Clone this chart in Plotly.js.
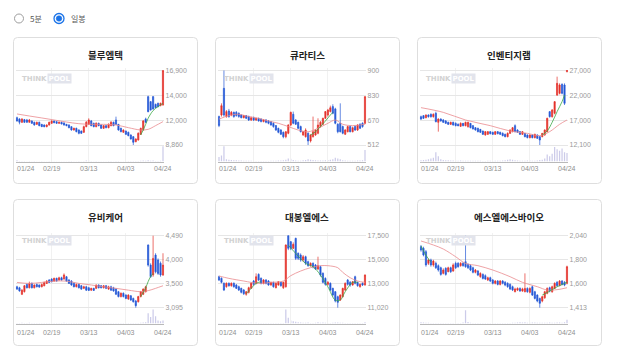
<!DOCTYPE html>
<html><head><meta charset="utf-8">
<script src="https://cdn.plot.ly/plotly-3.0.1.min.js"></script>
<style>html,body{margin:0;padding:0;background:#fff;}#chart{width:618px;height:357px;}</style>
</head><body><div id="chart"></div>
<script>
// ---------- DATA ----------
const names = ['블루엠텍','큐라티스','인벤티지랩','유비케어','대봉엘에스','에스엘에스바이오'];
const dates = ['01/24','01/31','02/03','02/04','02/05','02/06','02/07','02/10','02/11','02/12','02/13','02/14','02/17','02/18','02/19','02/20','02/21','02/24','02/25','02/26','02/27','02/28','03/04','03/05','03/06','03/07','03/10','03/11','03/12','03/13','03/14','03/17','03/18','03/19','03/20','03/21','03/24','03/25','03/26','03/27','03/28','03/31','04/01','04/02','04/03','04/04','04/07','04/08','04/09','04/10','04/11','04/14','04/15','04/16','04/17','04/18','04/21','04/22','04/23','04/24'];
const xLabelDates = ['01/24','02/19','03/13','04/03','04/24'];
const radioLabels = ['5분','일봉'];

// 블루엠텍
const c1Range = [8860,16900];
const c1TickText = ['8,860','12,000','14,000','16,900'];
const c1Open = [11810,11670,11310,11600,11560,11310,11450,11310,11090,11310,11090,11020,10840,11020,11200,11450,11380,11200,11310,11240,11090,11020,10840,10480,10660,10480,10370,10230,10840,11090,11450,11200,10840,11200,11020,10660,10950,10730,10950,11310,11560,11090,10660,10230,10370,10230,9940,9760,9220,9400,10010,10480,11670,14080,13540,14080,13250,13360,13110,13180];
const c1High = [11920,11740,11740,11670,11670,11670,11520,11380,11380,11380,11130,11090,11090,11380,11520,11520,11450,11380,11380,11310,11130,11090,10880,10730,10730,10550,10410,10950,11450,11740,11560,11270,11310,11270,11090,11020,11020,11200,11450,11380,11920,11130,10730,10550,10410,10300,10010,9830,9580,10230,10730,11560,11810,14180,13610,14150,13320,13430,13430,16900];
const c1Low = [11380,11090,11240,11240,11270,11270,11130,10950,11020,10880,10800,10770,10770,10950,11130,11200,11130,11130,11090,10950,10880,10660,10410,10410,10230,10010,10050,10160,10770,11020,10880,10770,10770,10880,10590,10590,10660,10660,10880,10880,11020,10410,10230,10160,9940,9800,9440,8860,9150,9330,9940,10410,11240,12390,12570,12680,12820,12930,13040,13110];
const c1Close = [11450,11310,11670,11310,11310,11560,11200,11020,11310,10950,10840,10840,11020,11310,11450,11270,11200,11310,11130,11020,10950,10730,10480,10660,10300,10120,10120,10840,11310,11560,10950,10840,11200,10950,10660,10950,10730,11090,11310,10950,11090,10480,10300,10480,10010,9870,9510,9150,9510,10120,10660,11450,11310,12460,12640,12750,12890,13000,13360,16900];
const c1Vol = [8,4,3,3,2,3,2,3,2,2,3,2,2,3,2,2,2,2,2,2,2,3,3,2,2,3,2,4,6,5,3,2,3,2,2,2,2,3,3,2,4,3,2,2,2,3,3,4,3,4,5,6,5,8,5,6,4,4,5,100];
const c1MaIdx = [0,5,10,15,20,25,30,35,40,45,50,53,56,59];
const c1Ma = [12210,11990,11780,11560,11340,11160,11090,11090,11020,10730,10480,10550,10950,11380];
const c1GreenIdx = [50,51,52,53,54,55,56,57,58,59];
const c1Green = [9940,10480,11090,11740,12210,12570,12820,13000,13180,13360];

// 큐라티스
const c2Range = [512,900];
const c2TickText = ['512','670','830','900'];
const c2Open = [660,668,807,660,689,668,682,682,677,668,654,665,660,642,654,642,651,647,634,642,637,634,625,613,599,590,578,555,573,616,672,642,630,608,564,555,573,533,555,564,573,608,620,651,668,686,712,700,620,625,608,568,581,608,581,608,590,620,625,625];
const c2High = [665,729,900,694,700,689,686,689,682,672,668,668,665,660,660,654,654,651,647,647,642,637,630,616,602,595,582,585,620,686,686,647,634,613,585,599,578,568,660,595,651,637,654,689,700,717,724,706,625,729,613,595,613,613,608,613,620,625,630,764];
const c2Low = [605,660,660,654,654,662,654,660,654,651,651,647,637,637,637,637,634,630,630,625,620,613,602,585,573,564,547,547,568,610,620,616,595,578,560,551,512,525,551,560,568,602,616,647,660,682,672,620,573,578,568,564,578,578,578,585,585,595,602,620];
const c2Close = [613,717,668,686,660,682,660,665,660,654,665,651,642,654,642,651,637,634,642,630,625,616,608,590,578,568,555,581,616,682,625,620,599,581,581,590,533,564,581,590,616,630,651,686,694,706,677,625,581,581,573,590,608,581,602,590,616,599,608,764];
const c2Vol = [30,40,100,15,12,10,8,8,6,6,5,5,5,5,4,4,4,4,4,4,4,5,5,5,6,6,8,12,20,18,10,6,5,5,8,10,15,12,10,8,6,6,6,8,10,12,15,25,20,15,8,6,5,5,5,5,6,6,8,75];
const c2MaIdx = [0,4,8,12,16,20,24,28,32,36,40,44,47,50,54,59];
const c2Ma = [647,665,672,660,651,637,625,608,590,581,599,625,642,620,613,620];
const c2GreenIdx = [37,39,41,43,45,46];
const c2Green = [564,581,608,637,668,682];

// 인벤티지랩
const c3Range = [12100,27000];
const c3TickText = ['12,100','17,000','22,000','27,000'];
const c3Open = [17770,17970,17570,18100,18230,17770,18430,16630,17300,17100,16900,16630,16230,16630,16430,16230,15830,16430,15970,15770,16430,15970,15570,15430,15230,14900,14100,14230,14770,14630,14230,14770,14630,14430,14230,13770,14430,14770,15970,15100,14770,14230,14430,14100,13570,14100,13570,14100,13770,13770,14100,14770,18770,17770,18430,22100,22430,24230,24100,26770];
const c3High = [17970,18100,18230,18230,18430,18430,18770,17430,17430,17300,17100,16770,16770,16770,16630,16430,16630,16500,16770,16770,16500,16100,15700,15570,15300,14970,14900,14900,14900,14770,14900,14900,14770,14630,14370,14630,15230,15700,16230,15230,14900,14900,14500,14230,14230,14230,14370,14230,13900,14500,15230,17570,18900,19300,20900,25770,24430,24430,24430,27000];
const c3Low = [17100,17300,17430,17570,17570,17570,16630,14770,16770,16500,16300,16100,16100,15970,15830,15830,15700,15830,15830,15570,15430,15230,14970,14630,14500,14100,13970,14100,14230,14100,14100,14230,14100,13830,13630,13630,14300,14630,14630,14500,14100,14100,13630,13430,13430,13430,13430,13300,12100,13630,13970,14630,17570,17570,18230,21900,22230,22230,20100,26630];
const c3Close = [17300,17430,18100,17770,17770,18230,16770,17300,16900,16630,16430,16230,16630,16100,15970,15970,16430,15970,16630,16630,15570,15300,15100,14770,14630,14230,14770,14770,14370,14230,14770,14370,14230,13970,13770,14430,15100,15570,14770,14630,14230,14770,13770,13570,14100,13570,14230,13430,13100,14430,15100,17430,17770,19100,20770,24430,24100,22430,20430,27000];
const c3Vol = [8,10,12,15,20,25,60,35,15,10,8,8,6,6,6,5,6,5,5,5,5,5,5,5,5,4,4,5,5,4,5,5,5,6,8,12,15,12,8,6,5,5,5,6,6,5,5,6,10,12,20,45,35,50,95,80,70,85,60,55];
const c3MaIdx = [0,9,18,28,36,43,48,52,56,59];
const c3Ma = [19570,18630,17100,15970,14900,14430,13970,14770,16230,17100];
const c3GreenIdx = [49,51,53,55,57,58];
const c3Green = [14100,14900,16630,18770,20770,22100];

// 유비케어
const c4Range = [3095,4490];
const c4TickText = ['3,095','3,500','4,000','4,490'];
const c4Open = [3500,3480,3355,3405,3545,3480,3565,3480,3545,3535,3500,3520,3565,3630,3650,3610,3665,3630,3675,3650,3695,3630,3610,3565,3500,3545,3520,3470,3500,3480,3435,3470,3470,3535,3520,3480,3520,3455,3500,3480,3455,3405,3310,3375,3340,3265,3325,3275,3225,3210,3310,3355,3405,4310,3920,3730,4115,4020,3955,3730];
const c4High = [3520,3500,3455,3535,3565,3600,3585,3545,3565,3545,3565,3600,3630,3650,3665,3675,3675,3695,3695,3760,3710,3650,3630,3585,3565,3565,3535,3520,3520,3500,3480,3480,3545,3545,3535,3535,3535,3520,3520,3500,3470,3420,3390,3390,3355,3355,3340,3290,3245,3325,3420,3470,3520,4320,3955,4490,4150,4050,3990,4150];
const c4Low = [3440,3405,3340,3390,3470,3470,3470,3470,3490,3480,3490,3510,3555,3575,3585,3600,3600,3620,3620,3640,3600,3555,3520,3490,3490,3470,3440,3455,3420,3420,3420,3420,3455,3470,3470,3470,3455,3440,3420,3405,3340,3295,3295,3295,3260,3245,3225,3195,3095,3195,3295,3340,3390,3890,3675,3695,3760,3730,3695,3710];
const c4Close = [3455,3420,3435,3520,3480,3565,3480,3535,3500,3495,3545,3585,3610,3585,3600,3665,3610,3675,3630,3730,3610,3565,3535,3500,3545,3480,3455,3500,3435,3430,3470,3430,3535,3480,3480,3520,3470,3500,3435,3420,3355,3310,3375,3310,3275,3340,3245,3210,3135,3310,3405,3455,3500,3920,3695,4050,3790,3760,3730,3920];
const c4Vol = [4,4,5,4,4,5,4,3,3,3,3,3,3,3,3,3,3,4,4,5,4,3,3,3,3,3,3,3,3,3,3,3,3,3,3,3,3,3,3,3,3,3,3,3,3,3,3,3,4,4,5,6,8,70,45,95,50,20,15,20];
const c4MaIdx = [0,5,10,15,20,25,30,35,40,45,50,53,56,59];
const c4Ma = [3585,3565,3585,3610,3610,3565,3535,3500,3470,3435,3405,3425,3470,3520];
const c4GreenIdx = [50,51,52,53,54,55];
const c4Green = [3310,3390,3480,3600,3700,3760];

// 대봉엘에스
const c5Range = [11020,17500];
const c5TickText = ['11,020','13,000','15,000','17,500'];
const c5Open = [13810,13660,13210,12910,13210,13000,13210,13060,12910,12760,12610,12220,12400,12760,13420,13210,14020,13660,13210,13510,13420,13060,13300,12820,13060,13300,12820,12910,17500,16960,16360,17260,15910,15760,15310,15610,15160,14800,15010,14860,14500,14710,14110,13660,13120,13210,12760,12460,12010,11710,12010,12610,13510,13300,13060,13810,13300,12910,13210,13060];
const c5High = [13900,13750,13300,13300,13300,13300,13300,13150,13000,12820,12700,12520,12910,13300,13510,14110,14110,13750,13600,13600,13510,13360,13360,13300,13420,13360,13360,16720,17500,17020,16900,17320,16000,15910,15760,15700,15250,15100,15100,14950,15610,14800,14200,13750,13420,13300,12820,12520,12100,12220,12820,13300,13600,13420,13420,13900,13360,13210,13300,14020];
const c5Low = [13420,13210,12520,12820,12910,12910,12820,12700,12520,12310,12160,12100,12310,12700,13000,13120,13420,13120,13120,13120,13000,13000,12820,12760,13000,12910,12700,12820,16200,16200,16300,15310,15310,15160,15160,14860,14710,14710,14560,14410,14410,13810,13210,13000,13000,12520,12010,11500,11020,11620,11950,12520,13000,12910,13000,13120,12910,12820,12970,13000];
const c5Close = [13510,13300,12610,13210,13000,13210,12910,12760,12610,12400,12280,12460,12820,13210,13120,13810,13510,13210,13510,13210,13060,13300,12910,13210,13360,13000,13300,16660,16360,16360,16720,15460,15460,15310,15610,15010,14800,15010,14710,14500,14800,13960,13300,13120,13300,12610,12160,11620,11500,12160,12760,13210,13120,13060,13360,13210,13000,13120,13060,13960];
const c5Vol = [4,3,3,3,3,3,3,3,3,3,3,4,4,5,4,5,4,3,3,3,3,3,3,3,3,3,4,95,40,20,15,12,8,6,5,5,6,4,4,5,8,5,6,5,4,4,5,6,6,5,5,4,4,4,4,4,4,4,4,8];
const c5MaIdx = [0,4,10,16,21,26,29,33,37,41,44,48,50,53,56,59];
const c5Ma = [13870,13660,13420,13210,13300,13420,13900,14320,14620,14800,14800,14620,14200,13720,13420,13300];
const c5GreenIdx = [11,13,15,17,null,28,31,35,38,41,44,47,49,51,54,56];
const c5Green = [12280,12760,13210,13360,null,16660,15910,15010,14710,13960,12900,11700,11710,12460,13300,13300];

// 에스엘에스바이오
const c6Range = [1413,2040];
const c6TickText = ['1,413','1,600','1,800','2,040'];
const c6Open = [1944,1930,1901,1799,1828,1785,1799,1779,1761,1712,1756,1727,1761,1732,1799,1799,1779,1799,1814,1790,1779,1761,1721,1732,1683,1703,1692,1654,1674,1654,1625,1645,1616,1645,1634,1625,1616,1596,1552,1567,1581,1558,1552,1581,1547,1596,1552,1523,1494,1471,1500,1538,1587,1552,1581,1634,1605,1645,1634,1625];
const c6High = [1959,1944,1915,1840,1840,1830,1814,1790,1770,1756,1765,1770,1770,1799,1814,1810,1810,1810,2040,1799,1790,1770,1750,1741,1721,1712,1703,1683,1683,1663,1654,1654,1654,1654,1645,1634,1625,1605,1587,1590,1590,1587,1712,1590,1590,1605,1560,1530,1500,1515,1560,1590,1596,1605,1634,1645,1654,1654,1645,1779];
const c6Low = [1901,1860,1770,1785,1770,1770,1750,1727,1692,1703,1692,1721,1715,1727,1750,1761,1770,1770,1761,1750,1732,1712,1712,1688,1674,1659,1654,1645,1636,1616,1616,1607,1607,1616,1600,1587,1567,1558,1547,1558,1552,1552,1547,1543,1538,1515,1485,1460,1413,1460,1490,1530,1547,1543,1576,1596,1600,1607,1600,1616];
const c6Close = [1915,1872,1785,1828,1785,1819,1761,1741,1703,1741,1703,1761,1727,1785,1761,1770,1799,1779,1770,1761,1741,1721,1741,1697,1712,1668,1663,1674,1645,1625,1645,1616,1645,1625,1610,1596,1576,1567,1576,1581,1558,1576,1581,1552,1581,1523,1494,1471,1451,1509,1552,1581,1558,1596,1625,1605,1645,1616,1610,1770];
const c6Vol = [8,6,5,5,4,4,4,4,4,4,4,4,4,4,4,4,4,6,90,10,5,4,4,4,4,4,4,4,4,4,4,4,4,4,4,4,4,5,5,6,8,6,8,5,5,6,6,5,5,5,5,5,6,5,5,6,6,5,8,25];
const c6MaIdx = [0,5,9,14,18,23,29,36,41,47,51,55,59];
const c6Ma = [1994,1959,1924,1857,1799,1779,1741,1683,1634,1596,1567,1570,1587];
const c6GreenIdx = [0,2,4,null,49,51,53,55,57,59];
const c6Green = [1950,1870,1810,null,1523,1545,1570,1595,1615,1635];

// ---------- DRAWING ----------
const W = 618, H = 357;
const X = p => p / W, Y = p => 1 - p / H;
const cards = [
  {o:c1Open,h:c1High,l:c1Low,c:c1Close,v:c1Vol,mi:c1MaIdx,ma:c1Ma,gi:c1GreenIdx,g:c1Green,tt:c1TickText,rg:c1Range},
  {o:c2Open,h:c2High,l:c2Low,c:c2Close,v:c2Vol,mi:c2MaIdx,ma:c2Ma,gi:c2GreenIdx,g:c2Green,tt:c2TickText,rg:c2Range},
  {o:c3Open,h:c3High,l:c3Low,c:c3Close,v:c3Vol,mi:c3MaIdx,ma:c3Ma,gi:c3GreenIdx,g:c3Green,tt:c3TickText,rg:c3Range},
  {o:c4Open,h:c4High,l:c4Low,c:c4Close,v:c4Vol,mi:c4MaIdx,ma:c4Ma,gi:c4GreenIdx,g:c4Green,tt:c4TickText,rg:c4Range},
  {o:c5Open,h:c5High,l:c5Low,c:c5Close,v:c5Vol,mi:c5MaIdx,ma:c5Ma,gi:c5GreenIdx,g:c5Green,tt:c5TickText,rg:c5Range},
  {o:c6Open,h:c6High,l:c6Low,c:c6Close,v:c6Vol,mi:c6MaIdx,ma:c6Ma,gi:c6GreenIdx,g:c6Green,tt:c6TickText,rg:c6Range}
];
const colLeft = [13, 215, 417];
const rows = [
  {top:37, title:54.5, gridTop:70.5, gridBot:145, axis:161.5, xlab:168.5, bottom:183},
  {top:199, title:217.5, gridTop:235.7, gridBot:307.7, axis:323.5, xlab:332, bottom:345}
];
const UP = '#e4322b', DOWN = '#2457d6';

function rr(x0, y0, x1, y1, r) {
  const P = (x, y) => X(x) + ',' + Y(y);
  return 'M ' + P(x0 + r, y0) + ' L ' + P(x1 - r, y0) + ' Q ' + P(x1, y0) + ' ' + P(x1, y0 + r) +
    ' L ' + P(x1, y1 - r) + ' Q ' + P(x1, y1) + ' ' + P(x1 - r, y1) +
    ' L ' + P(x0 + r, y1) + ' Q ' + P(x0, y1) + ' ' + P(x0, y1 - r) +
    ' L ' + P(x0, y0 + r) + ' Q ' + P(x0, y0) + ' ' + P(x0 + r, y0) + ' Z';
}

const layout = {
  width: W, height: H, margin: {l:0, r:0, t:0, b:0},
  paper_bgcolor: '#ffffff', plot_bgcolor: 'rgba(0,0,0,0)', showlegend: false,
  font: {family: 'Noto Sans CJK KR, sans-serif'},
  shapes: [], annotations: []
};
const traces = [];
const numFont = 'Liberation Sans, Arial, sans-serif';

cards.forEach((cd, k) => {
  const r = rows[Math.floor(k / 3)], L = colLeft[k % 3];
  const xk = k === 0 ? '' : String(k + 1);
  const xId = 'x' + xk, xKey = 'xaxis' + xk;
  const vN = 2 * k + 1, pN = 2 * k + 2;
  const vId = vN === 1 ? 'y' : 'y' + vN, vKey = vN === 1 ? 'yaxis' : 'yaxis' + vN;
  const pId = 'y' + pN, pKey = 'yaxis' + pN;
  const s = 146 / 59;
  const [vb, vt] = cd.rg;
  const kpx = (vt - vb) / (r.gridBot - r.gridTop);

  layout.shapes.push({type:'path', xref:'paper', yref:'paper', path: rr(L + 0.5, r.top + 0.5, L + 184.5, r.bottom + 0.5, 4),
    line:{color:'#dedede', width:1}, fillcolor:'#ffffff', layer:'below'});

  layout[xKey] = {type:'category', domain:[X(L + 4 - 0.6 * s), X(L + 150 + 0.6 * s)], range:[-0.6, 59.6],
    anchor: pId, tickvals:[xLabelDates[1], xLabelDates[2], xLabelDates[3]], showticklabels:false, ticks:'',
    showgrid:true, gridcolor:'#f1f1f1', gridwidth:1, showline:true, linecolor:'#b9b9b9', linewidth:1,
    zeroline:false, rangeslider:{visible:false}, fixedrange:true};
  layout[vKey] = {domain:[Y(r.axis), Y(r.gridBot)], range:[0, 108], visible:false, anchor:xId, fixedrange:true};
  layout[pKey] = {domain:[Y(r.axis), Y(r.gridTop - 3)], range:[vb - (r.axis - r.gridBot) * kpx, vt + 3 * kpx],
    side:'right', anchor:xId, tickvals:[vb, vb + (vt - vb) / 3, vb + 2 * (vt - vb) / 3, vt], ticktext: cd.tt,
    showgrid:true, gridcolor:'#e6e6e6', gridwidth:1, zeroline:false, ticks:'', showline:false,
    tickfont:{family:numFont, size:7, color:'#9a9a9a'}, fixedrange:true};

  traces.push({type:'bar', x:dates, y:cd.v, xaxis:xId, yaxis:vId, width:0.5,
    marker:{color:'#cccbe9', line:{width:0}}, hoverinfo:'skip'});
  traces.push({type:'scatter', mode:'lines', x:cd.mi.map(i => dates[i]), y:cd.ma, xaxis:xId, yaxis:pId,
    line:{color:'#ea8a8e', width:0.8, shape:'spline'}, hoverinfo:'skip'});
  traces.push({type:'scatter', mode:'lines', x:cd.gi.map(i => i === null ? null : dates[i]), y:cd.g, xaxis:xId, yaxis:pId,
    connectgaps:false, line:{color:'#3aa845', width:0.8, shape:'spline'}, hoverinfo:'skip'});
  traces.push({type:'candlestick', x:dates, open:cd.o, high:cd.h, low:cd.l, close:cd.c, xaxis:xId, yaxis:pId,
    whiskerwidth:0, increasing:{line:{color:UP, width:0.7}, fillcolor:UP},
    decreasing:{line:{color:DOWN, width:0.7}, fillcolor:DOWN}, hoverinfo:'skip'});

  // title
  layout.annotations.push({xref:'paper', yref:'paper', x:X(L + 92), y:Y(r.title), xanchor:'center', yanchor:'middle',
    text:names[k], showarrow:false, font:{family:'Noto Sans CJK KR, sans-serif', size:9.5, color:'#222222', weight:'bold'}});
  // watermark
  const wy = Y(r.top + 41.5);
  layout.annotations.push({xref:'paper', yref:'paper', x:X(L + 7), y:wy, xanchor:'left', yanchor:'middle',
    text:'THINK', showarrow:false, font:{family:'DejaVu Sans, sans-serif', size:7, color:'#d2d2d2', weight:'bold'}});
  layout.annotations.push({xref:'paper', yref:'paper', x:X(L + 34), y:wy, xanchor:'left', yanchor:'middle',
    text:'POOL', showarrow:false, bgcolor:'#e2e4ec', borderpad:0.5,
    font:{family:'DejaVu Sans, sans-serif', size:7, color:'#ffffff', weight:'bold'}});
  // x labels
  xLabelDates.forEach((d, j) => {
    layout.annotations.push({xref:xId, yref:'paper', x:d, y:Y(r.xlab), xanchor: j === 0 ? 'left' : 'center',
      xshift: j === 0 ? -1.5 : 0, yanchor:'middle', text:d, showarrow:false,
      font:{family:numFont, size:7, color:'#8f8f8f'}});
  });
});

// radio buttons
layout.shapes.push({type:'circle', xref:'paper', yref:'paper', x0:X(14.5), x1:X(23.5), y0:Y(23), y1:Y(14),
  line:{color:'#9e9e9e', width:1}, fillcolor:'#ffffff'});
layout.shapes.push({type:'circle', xref:'paper', yref:'paper', x0:X(54), x1:X(64), y0:Y(23.5), y1:Y(13.5),
  line:{color:'#1a73e8', width:1.3}, fillcolor:'#ffffff'});
layout.shapes.push({type:'circle', xref:'paper', yref:'paper', x0:X(56.2), x1:X(61.8), y0:Y(21.3), y1:Y(15.7),
  line:{color:'#1a73e8', width:0.5}, fillcolor:'#1a73e8'});
layout.annotations.push({xref:'paper', yref:'paper', x:X(27.5), y:Y(18.5), xanchor:'left', yanchor:'middle',
  text:radioLabels[0], showarrow:false, font:{size:8, color:'#555555'}});
layout.annotations.push({xref:'paper', yref:'paper', x:X(68.5), y:Y(18.5), xanchor:'left', yanchor:'middle',
  text:radioLabels[1], showarrow:false, font:{size:8, color:'#555555'}});

Plotly.newPlot('chart', traces, layout, {staticPlot:true, displayModeBar:false});
</script>
</body></html>
